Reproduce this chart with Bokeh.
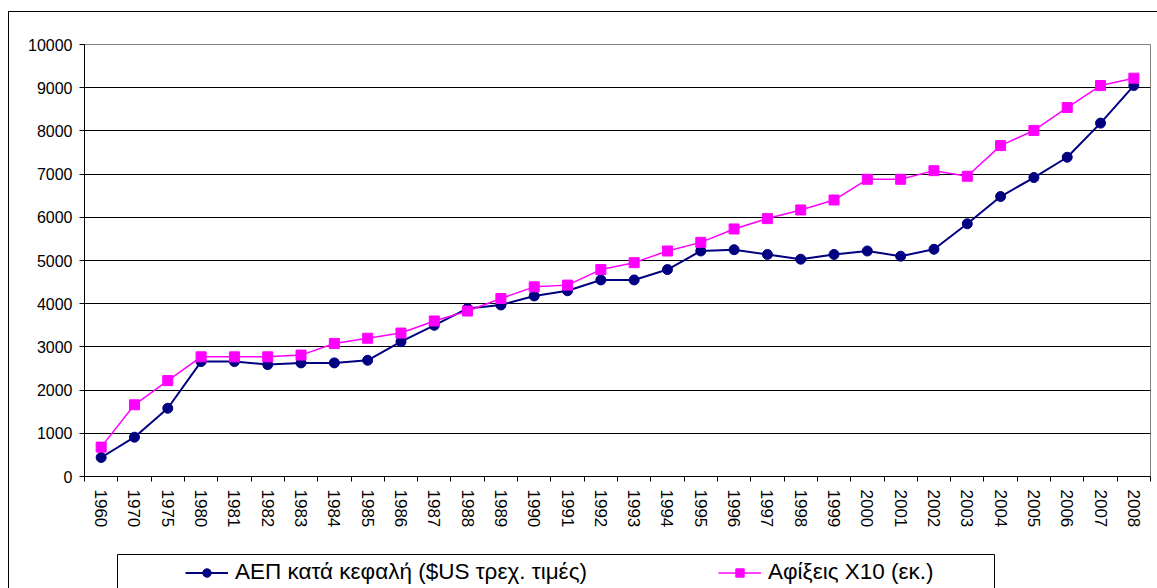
import math
from bokeh.plotting import figure
from bokeh.layouts import column, row
from bokeh.models import (Range1d, FixedTicker, Legend, LegendItem, ColumnDataSource,
                          LinearAxis, Spacer)
from bokeh.embed import file_html
from bokeh.resources import INLINE

years = ["1960", "1970", "1975", "1980", "1981", "1982", "1983", "1984", "1985",
         "1986", "1987", "1988", "1989", "1990", "1991", "1992", "1993", "1994",
         "1995", "1996", "1997", "1998", "1999", "2000", "2001", "2002", "2003",
         "2004", "2005", "2006", "2007", "2008"]
gdp = [440, 910, 1580, 2660, 2660, 2590, 2630, 2630, 2690, 3120, 3500, 3890,
       3970, 4180, 4300, 4550, 4550, 4790, 5220, 5250, 5140, 5030, 5140, 5220,
       5100, 5260, 5850, 6480, 6920, 7390, 8180, 9050]
arrivals = [680, 1660, 2220, 2770, 2770, 2770, 2810, 3080, 3200, 3320, 3600, 3830,
            4120, 4390, 4430, 4790, 4950, 5220, 5420, 5730, 5970, 6170, 6400, 6880,
            6880, 7080, 6950, 7660, 8010, 8540, 9050, 9220]
y_ticks = [0, 1000, 2000, 3000, 4000, 5000, 6000, 7000, 8000, 9000, 10000]
label_gdp = "ΑΕΠ κατά κεφαλή ($US τρεχ. τιμές)"
label_arr = "Αφίξεις X10 (εκ.)"

NAVY = "#000080"
MAGENTA = "#FF00FF"

n = len(years)
xs = list(range(n))
src = ColumnDataSource(dict(x=xs, gdp=gdp, arr=arrivals))

# ---- main chart ----
p = figure(width=1148, height=536, output_backend="svg", toolbar_location=None,
           x_range=Range1d(-0.5, n - 0.5), y_range=Range1d(y_ticks[0], y_ticks[-1]),
           min_border_left=75, min_border_right=7, min_border_top=32,
           min_border_bottom=72)
p.background_fill_color = "white"
p.border_fill_color = "white"
p.outline_line_color = "#808080"
p.outline_line_width = 1

p.xgrid.visible = False
p.ygrid.grid_line_color = "black"
p.ygrid.grid_line_width = 1

p.yaxis.ticker = FixedTicker(ticks=y_ticks)
p.yaxis.major_tick_out = 5
p.yaxis.major_tick_in = 0
p.yaxis.minor_tick_line_color = None
p.yaxis.axis_line_color = "black"
p.yaxis.major_label_text_font = "Liberation Sans"
p.yaxis.major_label_text_font_size = "16px"
p.yaxis.major_label_text_color = "black"
p.yaxis.major_label_standoff = 7

p.xaxis.ticker = FixedTicker(ticks=xs, minor_ticks=[i - 0.5 for i in range(n + 1)])
p.xaxis.major_label_overrides = {i: yv for i, yv in enumerate(years)}
p.xaxis.major_tick_line_color = None
p.xaxis.minor_tick_out = 5
p.xaxis.minor_tick_in = 0
p.xaxis.minor_tick_line_color = "black"
p.xaxis.axis_line_color = "black"
p.xaxis.major_label_orientation = -math.pi / 2
p.xaxis.major_label_text_font = "Liberation Sans"
p.xaxis.major_label_text_font_size = "17px"
p.xaxis.major_label_text_color = "black"
p.xaxis.major_label_standoff = 7

p.line("x", "gdp", source=src, line_color=NAVY, line_width=2)
p.line("x", "arr", source=src, line_color=MAGENTA, line_width=1.5)
p.scatter("x", "gdp", source=src, marker="circle", size=10,
          fill_color=NAVY, line_color=NAVY)
p.scatter("x", "arr", source=src, marker="square", size=10,
          fill_color=MAGENTA, line_color=MAGENTA)

# ---- legend box ----
q = figure(width=881, height=40, output_backend="svg", toolbar_location=None,
           x_range=Range1d(0, 1), y_range=Range1d(0, 1), x_axis_location="above",
           min_border_left=2, min_border_right=2, min_border_top=6,
           min_border_bottom=0)
q.background_fill_color = "white"
q.border_fill_color = "white"
q.outline_line_color = None
q.grid.visible = False
q.add_layout(LinearAxis(), "right")
for ax in q.axis:
    ax.ticker = FixedTicker(ticks=[])
    ax.major_tick_out = 0
    ax.major_tick_in = 0
    ax.minor_tick_line_color = None
    ax.major_label_standoff = 0
    ax.axis_line_color = "black"
    ax.axis_line_width = 1

nan = [float("nan")]
lg1 = q.line(x=nan, y=nan, line_color=NAVY, line_width=2)
sg1 = q.scatter(x=nan, y=nan, marker="circle", size=10, fill_color=NAVY, line_color=NAVY)
lg2 = q.line(x=nan, y=nan, line_color=MAGENTA, line_width=1.5)
sg2 = q.scatter(x=nan, y=nan, marker="square", size=10, fill_color=MAGENTA,
                line_color=MAGENTA)
leg = Legend(items=[LegendItem(label=label_gdp, renderers=[lg1, sg1]),
                    LegendItem(label=label_arr, renderers=[lg2, sg2])],
             location=(68, 3), orientation="horizontal", padding=0, margin=0,
             spacing=131, glyph_width=43, glyph_height=21, label_standoff=7,
             label_height=21, label_text_font="Liberation Sans",
             label_text_font_size="22.5px", label_text_color="black",
             border_line_alpha=0, background_fill_alpha=0)
q.add_layout(leg, "center")

layout = column(p, row(Spacer(width=106, height=40), q, spacing=0), spacing=0,
                styles={"position": "absolute", "left": "8px", "top": "11px",
                        "border-left": "1px solid black",
                        "border-top": "1px solid black"})

open("out.html", "w").write(file_html(layout, INLINE))
